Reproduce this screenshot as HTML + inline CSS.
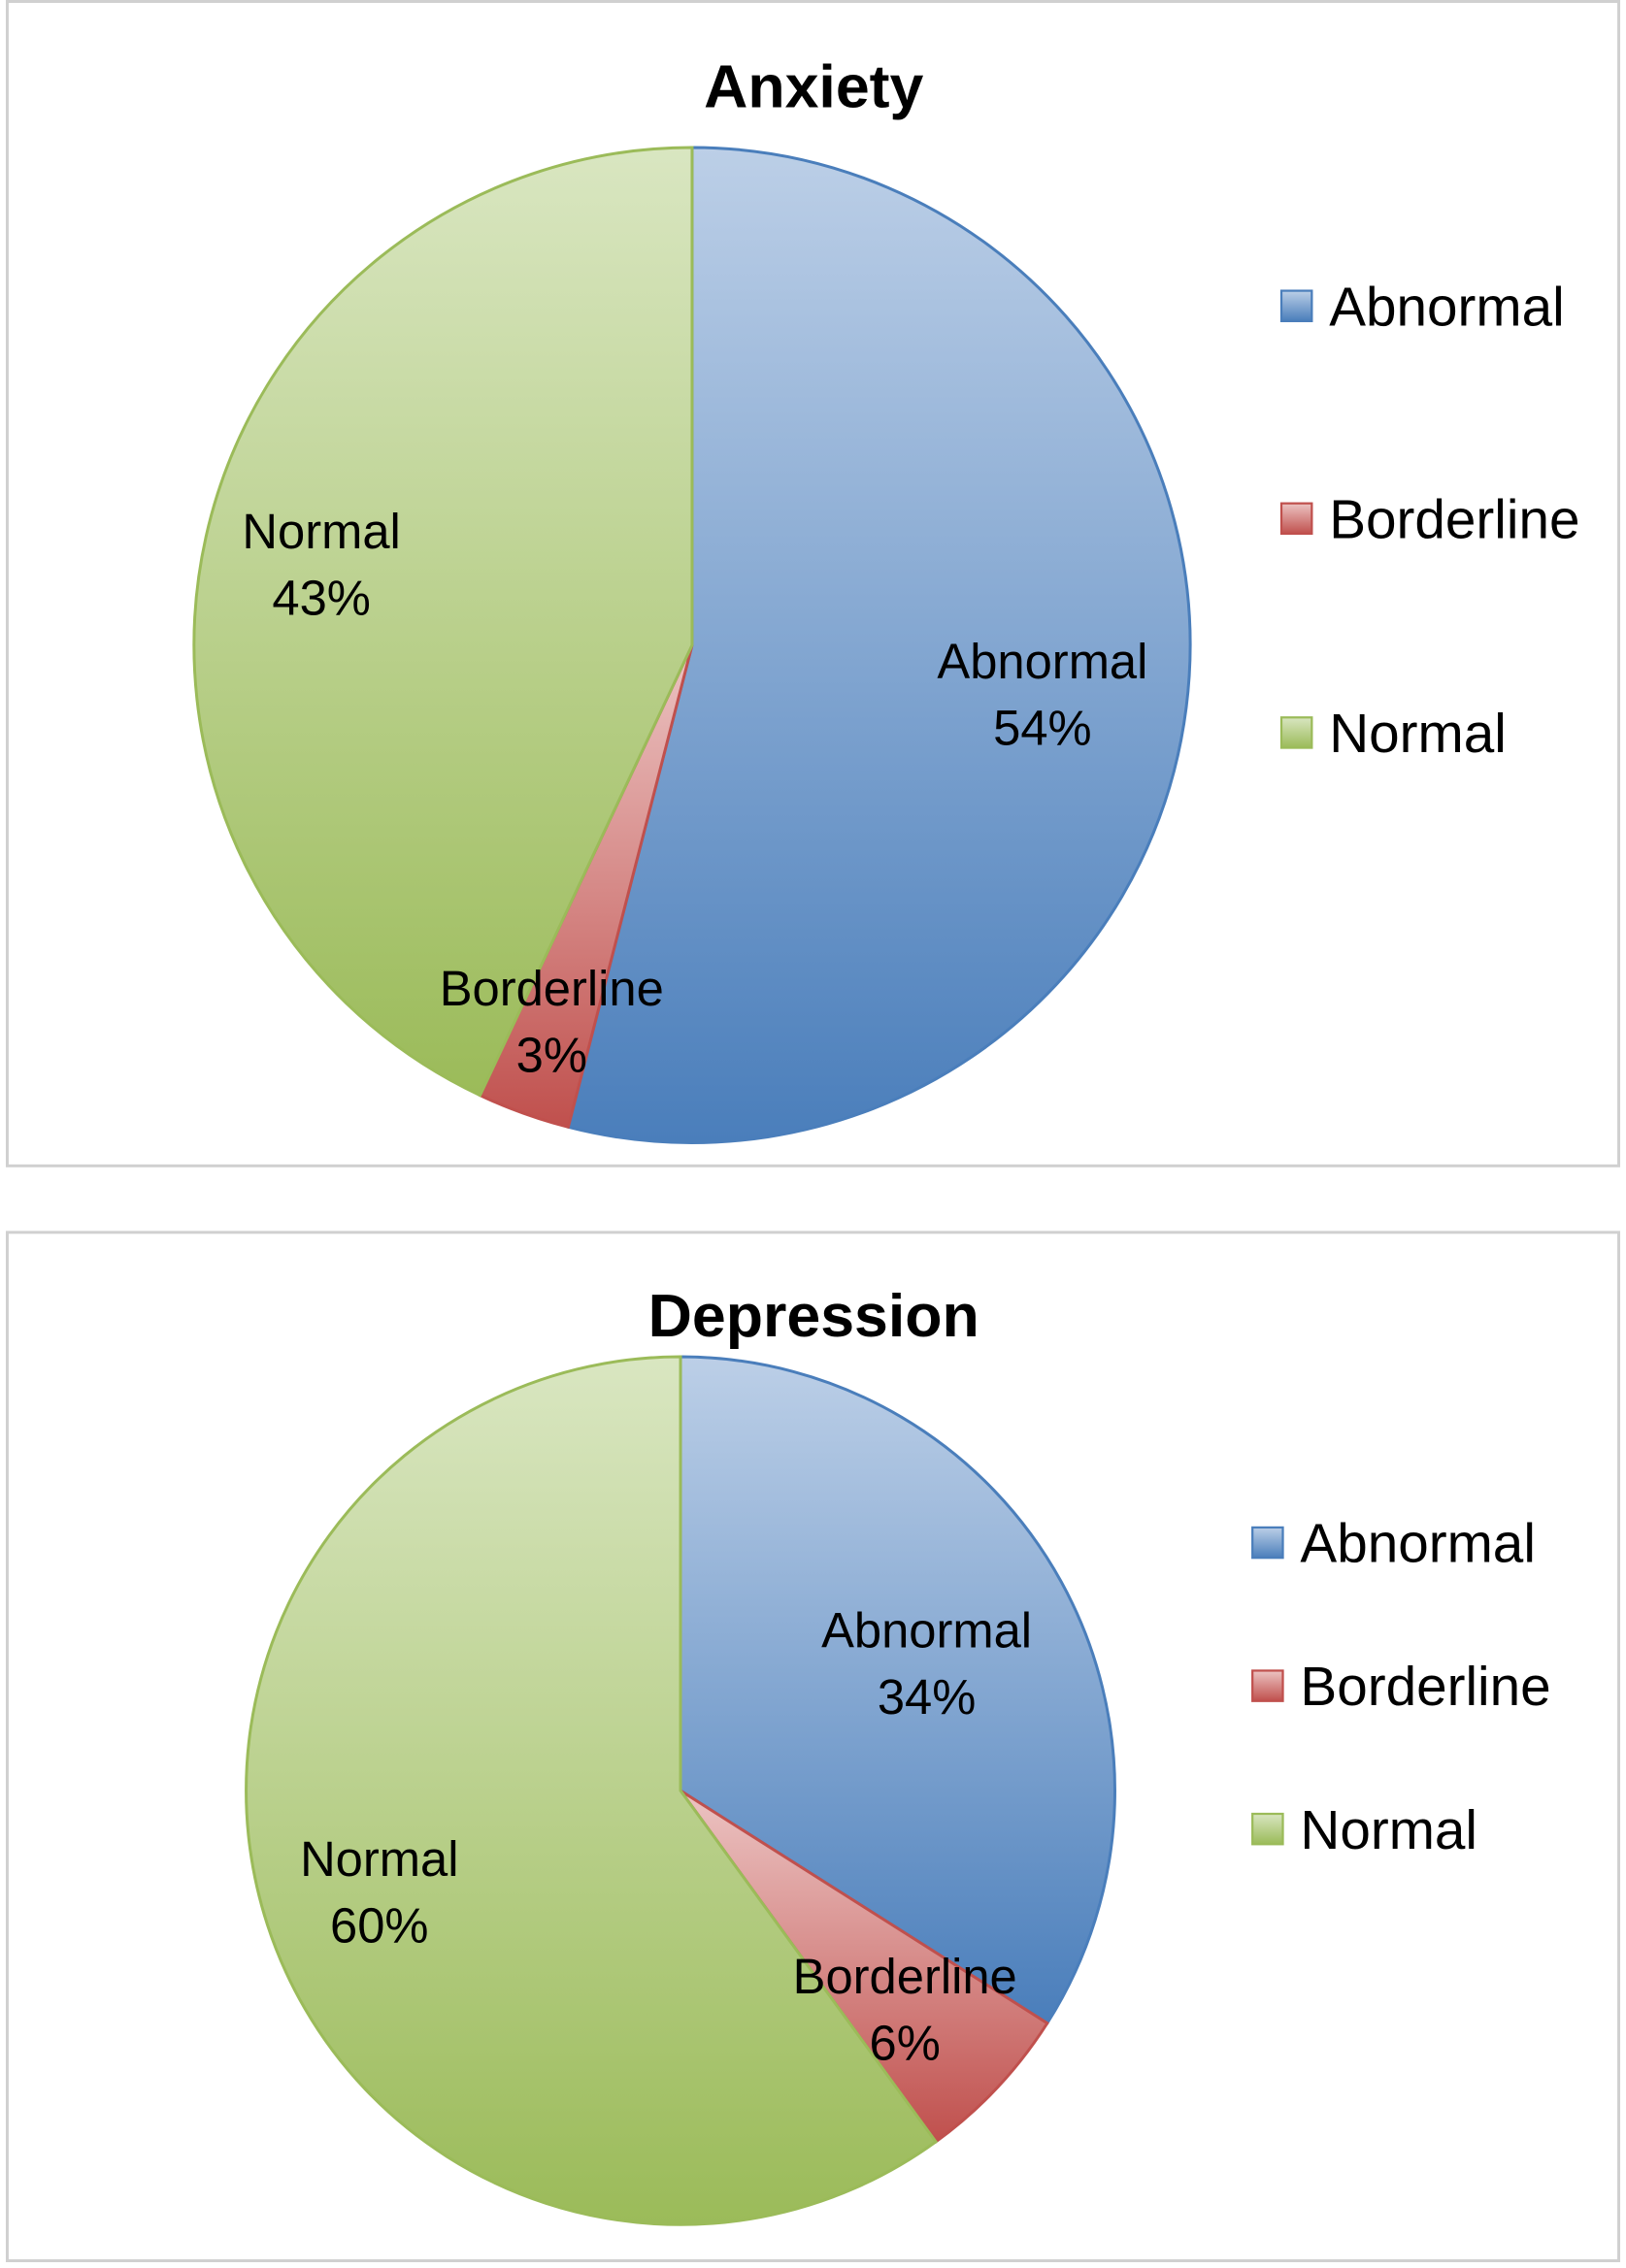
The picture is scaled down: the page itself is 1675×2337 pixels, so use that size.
<!DOCTYPE html>
<html><head><meta charset="utf-8"><style>
html,body{margin:0;padding:0;background:#fff;}
svg{display:block;}
text{font-family:"Liberation Sans",sans-serif;fill:#000;}
</style></head><body>
<svg id="chart" width="1675" height="2337" viewBox="0 0 1123 1568" preserveAspectRatio="none" xmlns="http://www.w3.org/2000/svg">
<defs>
<linearGradient id="gBlue" x1="0" y1="0" x2="0" y2="1"><stop offset="0" stop-color="#bccfe7"/><stop offset="1" stop-color="#4a7ebb"/></linearGradient>
<linearGradient id="gRed" x1="0" y1="0" x2="0" y2="1"><stop offset="0" stop-color="#ecc4c3"/><stop offset="1" stop-color="#c0504d"/></linearGradient>
<linearGradient id="gGreen" x1="0" y1="0" x2="0" y2="1"><stop offset="0" stop-color="#d9e6c1"/><stop offset="1" stop-color="#9bbb59"/></linearGradient>
</defs>
<rect x="5" y="1" width="1113" height="805" fill="#fff" stroke="#d0d0d0" stroke-width="2"/>
<rect x="5" y="852" width="1113" height="711" fill="#fff" stroke="#d0d0d0" stroke-width="2"/>
<text x="562" y="74" font-size="42" font-weight="bold" text-anchor="middle">Anxiety</text>
<text x="562" y="924" font-size="42" font-weight="bold" text-anchor="middle">Depression</text>
<g id="pies"></g>
<g id="labels"></g>
</svg>
<script>
const categories = ["Abnormal", "Borderline", "Normal"];
const anxietyValues = [54, 3, 43];
const depressionValues = [34, 6, 60];
const fills = ["url(#gBlue)", "url(#gRed)", "url(#gGreen)"];
const strokes = ["#4a7ebb", "#c0504d", "#9bbb59"];
const NS = "http://www.w3.org/2000/svg";
const g = document.getElementById("pies");
const gl = document.getElementById("labels");
function el(tag, attrs, parent){const e=document.createElementNS(NS,tag);for(const k in attrs)e.setAttribute(k,attrs[k]);(parent||g).appendChild(e);return e;}
function drawPie(name, values, cx, cy, r, labelPos, legendX, legendYs){
  const total = values.reduce((a,b)=>a+b,0);
  let a0 = 0;
  values.forEach((v,i)=>{
    const a1 = a0 + v/total*2*Math.PI;
    const x0 = cx + r*Math.sin(a0), y0 = cy - r*Math.cos(a0);
    const x1 = cx + r*Math.sin(a1), y1 = cy - r*Math.cos(a1);
    const large = (a1-a0) > Math.PI ? 1 : 0;
    const p = el("path",{d:`M${cx},${cy} L${x0},${y0} A${r},${r} 0 ${large} 1 ${x1},${y1} Z`,fill:fills[i],stroke:strokes[i],"stroke-width":2});
    
    
    const lp = labelPos[i];
    const t = el("text",{x:lp[0],y:lp[1],"font-size":34,"text-anchor":"middle"}, gl);
    
    
    const s1 = el("tspan",{x:lp[0],dy:0},t); s1.textContent = categories[i];
    const s2 = el("tspan",{x:lp[0],dy:46},t); s2.textContent = v+"%";
    a0 = a1;
  });
  categories.forEach((c,i)=>{
    const y = legendYs[i];
    const lg = el("g",{}, gl);
    
    
    el("rect",{x:legendX,y:y-11,width:21,height:21,fill:fills[i],stroke:strokes[i],"stroke-width":1.5},lg);
    const t = el("text",{x:legendX+33,y:y+13,"font-size":38},lg);
    t.textContent = c;
  });
}
drawPie("anxiety", anxietyValues, 478, 446, 344, [[720,469],[381,695],[222,379]], 885, [212,359,507]);
drawPie("depression", depressionValues, 470, 1238, 300, [[640,1139],[625,1378],[262,1297]], 865, [1067,1166,1265]);
</script>
</body></html>
